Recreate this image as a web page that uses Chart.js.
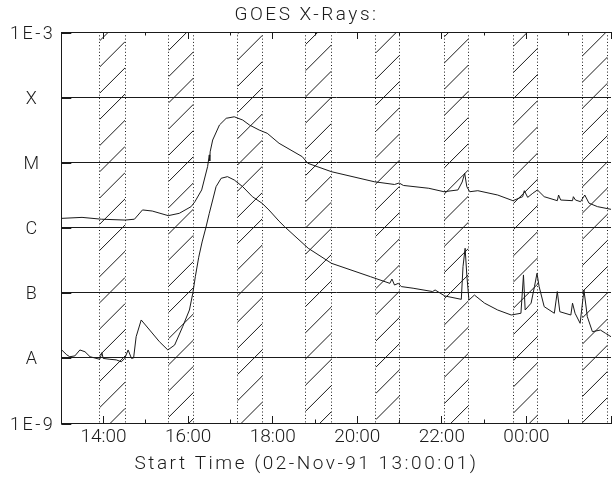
<!DOCTYPE html>
<html>
<head>
<meta charset="utf-8">
<script src="https://cdn.jsdelivr.net/npm/chart.js@4.4.1/dist/chart.umd.min.js"></script>
<style>
  html, body { margin: 0; padding: 0; background: #fff; }
</style>
</head>
<body>
<canvas id="goes" width="614" height="481"></canvas>
<script>
// hours after 13:00:01 UT, 02-Nov-91
const longTime = [0.00, 0.49, 0.95, 1.51, 1.73, 1.92, 2.15, 2.53, 2.79, 3.07, 3.16, 3.32, 3.46, 3.50, 3.51, 3.52,
  3.58, 3.74, 3.90, 4.09, 4.29, 4.45, 4.68, 4.87, 5.15, 5.70, 5.83, 6.39, 7.40, 7.88, 7.99, 8.09, 8.69, 9.05,
  9.38, 9.48, 9.54, 9.59, 9.66, 9.85, 10.32, 10.68, 10.91, 10.95, 11.03, 11.15, 11.26, 11.42, 11.73, 11.76,
  11.81, 12.09, 12.11, 12.16, 12.28, 12.38, 12.48, 12.68, 13.00];
const longFlux = [1.38e-6, 1.43e-6, 1.34e-6, 1.30e-6, 1.34e-6, 1.86e-6, 1.79e-6, 1.52e-6, 1.65e-6, 2.09e-6, 2.49e-6,
  3.77e-6, 8.6e-6, 1.3e-5, 1.05e-5, 1.45e-5, 2.2e-5, 3.74e-5, 4.74e-5, 5.0e-5, 4.46e-5, 3.74e-5, 3.13e-5, 2.79e-5,
  1.96e-5, 1.22e-5, 9.67e-6, 7.18e-6, 5.04e-6, 4.57e-6, 4.82e-6, 4.42e-6, 4.00e-6, 3.54e-6, 3.77e-6, 4.99e-6,
  6.79e-6, 4.23e-6, 3.54e-6, 3.67e-6, 3.15e-6, 2.58e-6, 2.97e-6, 3.67e-6, 2.90e-6, 3.35e-6, 3.77e-6, 2.97e-6,
  2.58e-6, 3.15e-6, 2.64e-6, 2.58e-6, 2.97e-6, 2.64e-6, 2.49e-6, 3.15e-6, 2.36e-6, 2.09e-6, 1.90e-6];

const shortTime = [0.01, 0.13, 0.20, 0.32, 0.44, 0.56, 0.68, 0.91, 0.96, 0.99, 1.15, 1.30, 1.42, 1.50, 1.58, 1.66,
  1.71, 1.77, 1.89, 2.09, 2.32, 2.52, 2.68, 2.87, 3.03, 3.11, 3.17, 3.25, 3.33, 3.42, 3.50, 3.58, 3.66, 3.78, 3.93,
  4.09, 4.29, 4.52, 4.75, 4.91, 5.15, 5.28, 5.84, 6.39, 7.31, 7.77, 7.82, 7.88, 7.97, 8.04, 8.32, 8.78, 8.84, 9.07,
  9.46, 9.50, 9.55, 9.59, 9.64, 9.77, 10.01, 10.32, 10.64, 10.87, 10.93, 10.97, 11.11, 11.19, 11.25, 11.30, 11.42,
  11.66, 11.73, 11.79, 12.05, 12.09, 12.15, 12.27, 12.36, 12.44, 12.56, 12.75, 12.87, 13.00];
const shortFlux = [1.32e-8, 1.11e-8, 1.04e-8, 1.07e-8, 1.32e-8, 1.24e-8, 1.04e-8, 9.5e-9, 1.2e-8, 9.8e-9, 9.5e-9,
  9.3e-9, 8.7e-9, 9.8e-9, 1.32e-8, 9.8e-9, 9.95e-9, 2.11e-8, 3.81e-8, 2.67e-8, 1.77e-8, 1.32e-8, 1.57e-8, 3.01e-8,
  5.42e-8, 9.8e-8, 1.76e-7, 3.5e-7, 6.0e-7, 1.0e-6, 1.65e-6, 2.64e-6, 4.23e-6, 5.69e-6, 6.03e-6, 5.36e-6, 4.23e-6,
  2.97e-6, 2.35e-6, 1.86e-6, 1.25e-6, 1.03e-6, 4.80e-7, 2.82e-7, 1.76e-7, 1.39e-7, 1.62e-7, 1.31e-7, 1.39e-7,
  1.24e-7, 1.17e-7, 1.04e-7, 1.10e-7, 8.9e-8, 7.9e-8, 2.51e-7, 4.80e-7, 1.87e-7, 7.7e-8, 9.2e-8, 6.9e-8, 5.42e-8,
  4.54e-8, 4.83e-8, 1.87e-7, 5.42e-8, 6.9e-8, 1.24e-7, 1.98e-7, 1.24e-7, 6.1e-8, 4.83e-8, 1.04e-7, 5.1e-8, 4.54e-8,
  6.9e-8, 4.83e-8, 3.39e-8, 1.10e-7, 4.28e-8, 2.52e-8, 2.67e-8, 2.38e-8, 2.11e-8];

// hatched intervals (hours after start)
const bandStart = [0.907, 2.538, 4.166, 5.774, 7.439, 9.055, 10.69, 12.32];
const bandEnd = [1.508, 3.127, 4.755, 6.387, 8.004, 9.630, 11.27, 12.92];

// flux decades and their labels
const classLevels = [1e-9, 1e-8, 1e-7, 1e-6, 1e-5, 1e-4, 1e-3];
const classLabels = ['1E-9', 'A', 'B', 'C', 'M', 'X', '1E-3'];

const FONT = "Roboto, 'DejaVu Sans', sans-serif";
const INK = '#1a1a1a';

const toPoints = (xs, ys) => xs.map((x, i) => ({ x: x, y: ys[i] }));

function hourLabel(v) {
  const h = (13 + v) % 24;
  return String(h).padStart(2, '0') + ':00';
}

// same rounding Chart.js uses for 1px grid lines
const crisp = p => Math.round(p - 0.5) + 0.5;

// wide letter spacing for the title texts and y labels, none for the time labels
const spacing = {
  id: 'spacing',
  beforeLayout(chart) { chart.ctx.letterSpacing = '2.5px'; },
  beforeDraw(chart) { chart.ctx.letterSpacing = '2.5px'; },
  afterDatasetsDraw(chart) { chart.ctx.letterSpacing = '0px'; }
};

// dotted edges and 45 degree hatching for each interval
const hatchBands = {
  id: 'hatchBands',
  beforeDatasetsDraw(chart) {
    const { ctx, chartArea: a, scales: { x } } = chart;
    const step = 26.2, phase = 21;
    ctx.save();
    ctx.strokeStyle = INK;
    ctx.lineWidth = 1;
    bandStart.forEach((t0, i) => {
      const x0 = x.getPixelForValue(t0);
      const x1 = x.getPixelForValue(bandEnd[i]);
      ctx.setLineDash([1, 2.3]);
      [x0, x1].forEach(px => {
        const p = crisp(px);
        ctx.beginPath();
        ctx.moveTo(p, a.top);
        ctx.lineTo(p, a.bottom);
        ctx.stroke();
      });
      ctx.setLineDash([]);
      ctx.save();
      ctx.beginPath();
      ctx.rect(x0, a.top, x1 - x0, a.bottom - a.top);
      ctx.clip();
      ctx.beginPath();
      const base = a.left + a.top + phase;
      const kMin = Math.floor((x0 + a.top - base) / step) - 1;
      const kMax = Math.ceil((x1 + a.bottom - base) / step) + 1;
      for (let k = kMin; k <= kMax; k++) {
        const c = base + k * step;
        ctx.moveTo(x0, c - x0);
        ctx.lineTo(x1, c - x1);
      }
      ctx.stroke();
      ctx.restore();
    });
    ctx.restore();
  }
};

// inward tick marks, IDL style
const innerTicks = {
  id: 'innerTicks',
  afterDatasetsDraw(chart) {
    const { ctx, chartArea: a, scales: { x, y } } = chart;
    ctx.save();
    ctx.strokeStyle = INK;
    ctx.fillStyle = INK;
    ctx.lineWidth = 1;
    ctx.beginPath();
    for (let t = 1; t <= 13; t++) {
      const p = crisp(x.getPixelForValue(t));
      const len = (t % 2 === 1) ? 7 : 3.5;
      ctx.moveTo(p, a.bottom);
      ctx.lineTo(p, a.bottom - len);
      ctx.moveTo(p, a.top);
      ctx.lineTo(p, a.top + len);
    }
    ctx.stroke();
    classLevels.forEach(v => {
      const row = Math.round(y.getPixelForValue(v) - 0.5);
      ctx.fillRect(a.left, row, 10, 2);
    });
    ctx.restore();
  }
};

new Chart(document.getElementById('goes'), {
  type: 'line',
  data: {
    datasets: [
      { label: '1-8 A', data: toPoints(longTime, longFlux), borderColor: INK, borderWidth: 1, pointRadius: 0, tension: 0 },
      { label: '0.5-4 A', data: toPoints(shortTime, shortFlux), borderColor: INK, borderWidth: 1, pointRadius: 0, tension: 0 }
    ]
  },
  options: {
    responsive: false,
    animation: false,
    devicePixelRatio: 1,
    layout: { padding: { left: 0, right: 1, top: 0, bottom: 0 } },
    plugins: {
      legend: { display: false },
      tooltip: { enabled: false },
      title: {
        display: true,
        text: 'GOES X-Rays:',
        color: INK,
        font: { family: FONT, size: 19, weight: 300 },
        padding: { top: 4.1, bottom: 5.1 }
      },
      subtitle: {
        display: true,
        position: 'bottom',
        text: 'Start Time (02-Nov-91 13:00:01)',
        color: INK,
        font: { family: FONT, size: 19, weight: 300 },
        padding: { top: 0, bottom: 5.6 }
      }
    },
    scales: {
      x: {
        type: 'linear',
        min: 0,
        max: 13,
        grid: { display: false, drawTicks: false },
        border: { display: true, color: INK },
        ticks: {
          stepSize: 1,
          autoSkip: false,
          maxRotation: 0,
          includeBounds: false,
          z: 1,
          padding: 3,
          color: INK,
          font: { family: FONT, size: 19, weight: 300 },
          callback: v => (v % 2 === 1 && v < 13) ? hourLabel(v) : ''
        },
        afterFit: s => { s.height = 29.6; }
      },
      y: {
        type: 'logarithmic',
        min: 1e-9,
        max: 1e-3,
        afterBuildTicks: s => { s.ticks = classLevels.map(v => ({ value: v })); },
        grid: { color: INK, lineWidth: 1, drawTicks: false },
        border: { color: INK },
        ticks: {
          crossAlign: 'center',
          padding: 6,
          labelOffset: 2,
          color: INK,
          font: { family: FONT, size: 18, weight: 300 },
          callback: v => classLabels[classLevels.indexOf(v)]
        },
        afterFit: s => { s.width = 61.3; }
      }
    }
  },
  plugins: [spacing, hatchBands, innerTicks]
});
</script>
</body>
</html>
